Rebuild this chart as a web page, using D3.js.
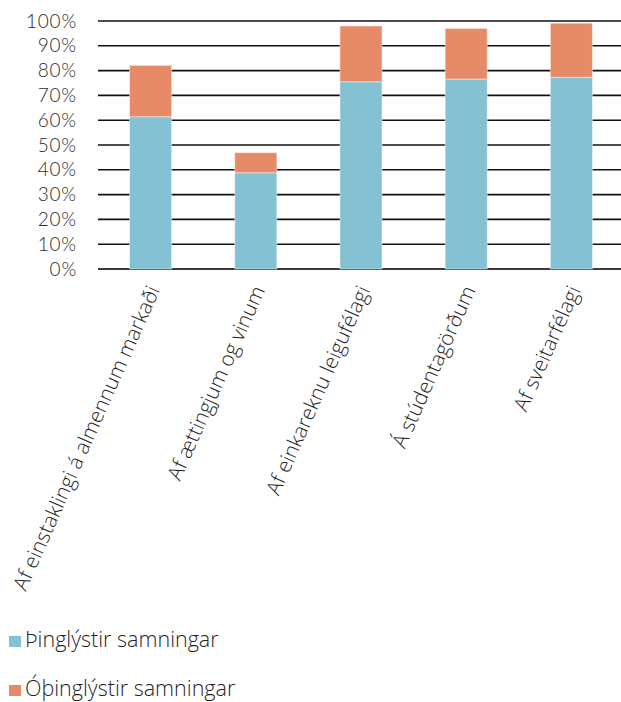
<!DOCTYPE html>
<html>
<head>
<meta charset="utf-8">
<script src="https://cdn.jsdelivr.net/npm/d3@7"></script>
<style>
  html, body { margin: 0; padding: 0; background: #fff; }
  svg { display: block; font-family: "Open Sans", Lato, sans-serif; }
</style>
</head>
<body>
<svg id="chart" width="621" height="702"></svg>
<script>
// Rental contract categories and shares (%)
const categories = [
  "Af einstaklingi á almennum markaði",
  "Af ættingjum og vinum",
  "Af einkareknu leigufélagi",
  "Á stúdentagörðum",
  "Af sveitarfélagi"
];
const registered = [61.4, 38.8, 75.5, 76.6, 77.3];
const unregistered = [20.7, 8.1, 22.5, 20.4, 21.8];
const seriesNames = ["Þinglýstir samningar", "Óþinglýstir samningar"];
const seriesColors = ["#83c1d3", "#e68a68"];
const yTicks = [0, 10, 20, 30, 40, 50, 60, 70, 80, 90, 100];

const rows = categories.map((c, i) => ({ cat: c, s0: registered[i], s1: unregistered[i] }));
const stacked = d3.stack().keys(["s0", "s1"])(rows);

const svg = d3.select("#chart");
const x = d3.scaleBand().domain(categories).range([98, 624]).paddingInner(0.6).paddingOuter(0.3);
const y = d3.scaleLinear().domain([0, 100]).range([269, 21]);

// Horizontal gridlines
svg.append("g")
  .selectAll("line")
  .data(yTicks)
  .join("line")
  .attr("x1", 98).attr("x2", 621)
  .attr("y1", d => y(d)).attr("y2", d => y(d))
  .attr("stroke", d => d === 0 ? "#3a3a3a" : "#111")
  .attr("stroke-width", d => d === 0 ? 2.2 : 1.6);

// Y axis labels
const yAxis = d3.axisLeft(y).tickValues(yTicks).tickSize(0).tickPadding(21).tickFormat(d => d + "%");
const yg = svg.append("g").attr("transform", "translate(98,0)").call(yAxis);
yg.select(".domain").remove();
yg.selectAll("text").attr("font-size", 19).attr("fill", "#2b2b2b")
  .attr("font-family", "Lato, sans-serif").attr("font-weight", 300).attr("letter-spacing", 0.8);

// Stacked bars
svg.append("g")
  .selectAll("g")
  .data(stacked)
  .join("g")
  .attr("fill", (d, i) => seriesColors[i])
  .selectAll("rect")
  .data(d => d)
  .join("rect")
  .attr("x", d => x(d.data.cat))
  .attr("width", x.bandwidth())
  .attr("y", d => y(d[1]))
  .attr("height", d => y(d[0]) - y(d[1]))
  .attr("stroke", "rgba(255,255,255,0.45)")
  .attr("stroke-width", 1);

// Rotated category labels
svg.append("g")
  .selectAll("text")
  .data(categories)
  .join("text")
  .attr("transform", d => `translate(${x(d) + x.bandwidth() / 2 + 3},287) rotate(-66)`)
  .attr("text-anchor", "end")
  .attr("dy", "0.35em")
  .attr("font-size", 20.8)
  .attr("font-weight", 300)
  .attr("fill", "#1f1f1f")
  .text(d => d);

// Legend
const legend = svg.append("g")
  .selectAll("g")
  .data(seriesNames)
  .join("g")
  .attr("transform", (d, i) => `translate(9,${636 + i * 49})`);
legend.append("rect").attr("width", 12).attr("height", 11).attr("fill", (d, i) => seriesColors[i]);
legend.append("text")
  .attr("x", 16).attr("y", 11)
  .attr("font-size", 21.5)
  .attr("font-weight", 300)
  .attr("fill", "#1f1f1f")
  .text(d => d);
</script>
</body>
</html>
